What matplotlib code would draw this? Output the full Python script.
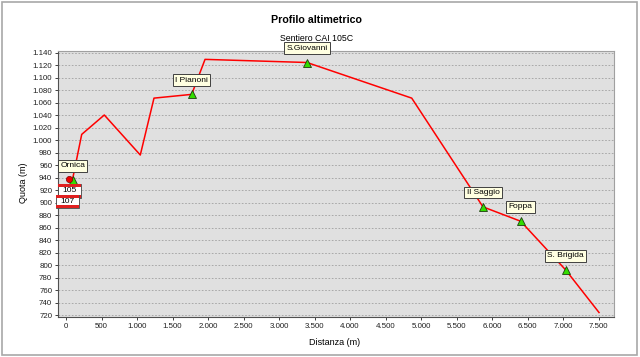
import numpy as np
import matplotlib
matplotlib.use("Agg")
import matplotlib.pyplot as plt
from matplotlib.patches import Rectangle
from matplotlib.text import Text
from matplotlib.offsetbox import DrawingArea, AnnotationBbox
from matplotlib.ticker import FuncFormatter, MultipleLocator

plt.rcParams['font.family'] = ['Liberation Sans', 'DejaVu Sans']

# profile (distance m, elevation m)
dist = [90, 221, 539, 1046, 1239, 1770, 1958, 3394, 4869, 5873, 6404, 7038, 7507]
quota = [936, 1009, 1040, 976, 1067, 1073, 1129, 1124, 1067, 893, 870, 792, 724]

# waypoints
wp_names = ["Ornica", "I Pianoni", "S.Giovanni", "Il Saggio", "Foppa", "S. Brigida"]
wp_dist = [94, 1770, 3394, 5873, 6404, 7038]
wp_quota = [936, 1073, 1124, 893, 870, 792]

# start point and trail signs
start_dist, start_quota = 46, 937
signs = ["105", "107"]

fig = plt.figure(figsize=(6.4, 3.57), dpi=100)
ax = fig.add_axes([58 / 640, 1 - 316.7 / 357, 556 / 640, 265.7 / 357])
ax.set_facecolor('#e0e0e0')

# figure border
fig.add_artist(Rectangle((0.003, 0.006), 0.993, 0.988, transform=fig.transFigure,
                         fill=False, ec='#a8a8a8', lw=1.2))

ax.plot(dist, quota, color='#ff0000', lw=1.1, zorder=3)
ax.plot(wp_dist, wp_quota, ls='none', marker='^', ms=5.5, mfc='#33dd00',
        mec='#1e3c10', mew=0.6, zorder=4)
ax.plot([start_dist], [start_quota], ls='none', marker='o', ms=4.5, mfc='#ee0000',
        mec='#800000', mew=0.5, zorder=5)

for name, x, y in zip(wp_names, wp_dist, wp_quota):
    ax.annotate(name, (x, y), xytext=(0, 10.3), textcoords='offset points',
                ha='center', va='center', fontsize=6, color='#000000', zorder=6,
                bbox=dict(boxstyle='square,pad=0.28', fc='#ffffe1', ec='#404040', lw=0.7))

# CAI trail signs: red-white-red
sw, sh, band = 16.5, 9.8, 2.3
for i, s in enumerate(signs):
    da = DrawingArea(sw, sh, 0, 0)
    da.add_artist(Rectangle((0, 0), sw, sh, fc='white', ec='#404040', lw=0.6))
    da.add_artist(Rectangle((0, 0), sw, band, fc='#e02020', ec='none'))
    da.add_artist(Rectangle((0, sh - band), sw, band, fc='#e02020', ec='none'))
    da.add_artist(Text(sw / 2, sh / 2, s, ha='center', va='center', fontsize=6,
                       color='black'))
    ab = AnnotationBbox(da, (start_dist, start_quota),
                        xybox=(0.3 - 1.4 * i, -8.3 - 7.6 * i),
                        boxcoords='offset points', frameon=False, pad=0,
                        zorder=7 + i)
    ax.add_artist(ab)

ax.set_xlim(-113, 7718)
ax.set_ylim(717.3, 1142.4)
ax.xaxis.set_major_locator(MultipleLocator(500))
ax.yaxis.set_major_locator(MultipleLocator(20))
fmt = FuncFormatter(lambda v, p: f"{v:,.0f}".replace(',', '.'))
ax.xaxis.set_major_formatter(fmt)
ax.yaxis.set_major_formatter(fmt)
ax.tick_params(labelsize=5.7, length=2.2, width=0.6, pad=2, colors='#202020')

ax.yaxis.grid(True, color='#a0a0a0', lw=0.6, ls=(0, (2, 2)))
ax.set_axisbelow(True)
for side in ['left', 'bottom']:
    ax.spines[side].set_color('#505050')
    ax.spines[side].set_linewidth(0.8)
for side in ['top', 'right']:
    ax.spines[side].set_color('#a0a0a0')
    ax.spines[side].set_linewidth(0.8)

ax.set_xlabel('Distanza (m)', fontsize=6.5)
ax.set_ylabel('Quota (m)', fontsize=6.5)
ax.xaxis.set_label_coords(0.498, -0.080)
ax.yaxis.set_label_coords(-0.054, 0.503)

fig.text(0.494, 0.944, 'Profilo altimetrico', ha='center', va='center',
         fontsize=7.7, fontweight='bold')
fig.text(0.494, 0.891, 'Sentiero CAI 105C', ha='center', va='center', fontsize=6.3)

fig.savefig('out.png', dpi=100)
